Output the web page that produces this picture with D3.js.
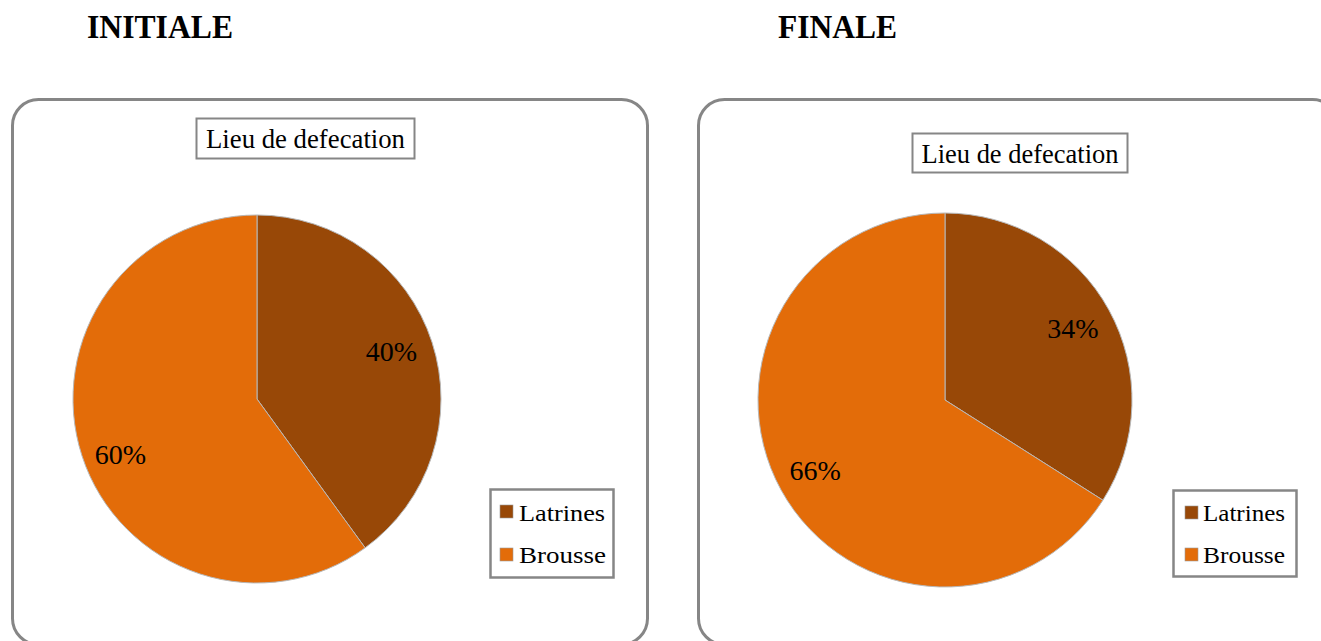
<!DOCTYPE html>
<html>
<head>
<meta charset="utf-8">
<script src="https://cdn.jsdelivr.net/npm/d3@7"></script>
<style>
  html, body { margin: 0; padding: 0; background: #fff; }
  svg { display: block; }
  text { font-family: "Liberation Serif", "Times New Roman", serif; }
</style>
</head>
<body>
<svg id="chart" width="1321" height="641"></svg>
<script>
// ---- data ----
const categories = ["Latrines", "Brousse"];
const initialeValues = [40, 60];
const finaleValues = [34, 66];
const panelTitles = ["INITIALE", "FINALE"];
const chartTitle = "Lieu de defecation";
const sliceColors = ["#984807", "#E36C09"];

// ---- layout (positions/styles only) ----
const panels = [
  { values: initialeValues, heading: panelTitles[0],
    headX: 87, headLen: 146,
    box: { x: 12.5, y: 99.5, w: 635, h: 545 },
    titleBox: { x: 196.5, y: 118.5, w: 218, h: 40 }, titleBase: 148, titleLen: 199,
    cx: 257, cy: 399, r: 184,
    labelNudge: [[-2, -3], [0, 11]],
    legend: { x: 490.5, y: 489.5, w: 123, h: 88, sx: 500, tx: 519, base: [521, 563], sy: [505, 548], len: [86, 87] } },
  { values: finaleValues, heading: panelTitles[1],
    headX: 778, headLen: 119,
    box: { x: 698.5, y: 99.5, w: 640, h: 545 },
    titleBox: { x: 912.5, y: 133.5, w: 215, h: 39 }, titleBase: 163, titleLen: 197,
    cx: 945, cy: 400, r: 187,
    labelNudge: [[0, -2], [-2, 0]],
    legend: { x: 1173.5, y: 490.5, w: 123, h: 86, sx: 1185, tx: 1203, base: [521, 563], sy: [506, 548], len: [82, 82] } }
];

const svg = d3.select("#chart");
const color = d3.scaleOrdinal().domain(categories).range(sliceColors);
const pie = d3.pie().sort(null).value(d => d.value);

panels.forEach(p => {
  const g = svg.append("g");

  // heading
  g.append("text")
    .attr("x", p.headX).attr("y", 38)
    .attr("font-size", 33).attr("font-weight", "bold")
    .attr("textLength", p.headLen).attr("lengthAdjust", "spacingAndGlyphs")
    .attr("fill", "#000")
    .text(p.heading);

  // chart area frame
  g.append("rect")
    .attr("x", p.box.x).attr("y", p.box.y)
    .attr("width", p.box.w).attr("height", p.box.h)
    .attr("rx", 26).attr("ry", 26)
    .attr("fill", "#fff").attr("stroke", "#868686").attr("stroke-width", 3);

  // title box
  g.append("rect")
    .attr("x", p.titleBox.x).attr("y", p.titleBox.y)
    .attr("width", p.titleBox.w).attr("height", p.titleBox.h)
    .attr("fill", "#fff").attr("stroke", "#868686").attr("stroke-width", 2);
  g.append("text")
    .attr("x", p.titleBox.x + p.titleBox.w / 2).attr("y", p.titleBase)
    .attr("text-anchor", "middle")
    .attr("font-size", 27)
    .attr("textLength", p.titleLen).attr("lengthAdjust", "spacingAndGlyphs")
    .text(chartTitle);

  // pie
  const data = categories.map((c, i) => ({ cat: c, value: p.values[i] }));
  const arcs = pie(data);
  const arc = d3.arc().innerRadius(0).outerRadius(p.r);
  const labelArc = d3.arc().innerRadius(p.r * 0.78).outerRadius(p.r * 0.78);
  const pg = g.append("g").attr("transform", `translate(${p.cx},${p.cy})`);
  pg.selectAll("path").data(arcs).join("path")
    .attr("d", arc)
    .attr("fill", d => color(d.data.cat))
    .attr("stroke", "#b8b8b8").attr("stroke-width", 1);
  pg.selectAll("text").data(arcs).join("text")
    .attr("transform", (d, i) => {
      const [x, y] = labelArc.centroid(d);
      return `translate(${x + p.labelNudge[i][0]},${y + p.labelNudge[i][1]})`;
    })
    .attr("text-anchor", "middle")
    .attr("dy", "0.35em")
    .attr("font-size", 28)
    .attr("fill", "#000")
    .text(d => d.data.value + "%");

  // legend
  const L = p.legend;
  g.append("rect")
    .attr("x", L.x).attr("y", L.y).attr("width", L.w).attr("height", L.h)
    .attr("fill", "#fff").attr("stroke", "#868686").attr("stroke-width", 2.5);
  categories.forEach((c, i) => {
    g.append("rect")
      .attr("x", L.sx).attr("y", L.sy[i]).attr("width", 13).attr("height", 13)
      .attr("fill", color(c)).attr("stroke", "#9a9a9a").attr("stroke-width", 0.6);
    g.append("text")
      .attr("x", L.tx).attr("y", L.base[i])
      .attr("font-size", 24)
      .attr("textLength", L.len[i]).attr("lengthAdjust", "spacingAndGlyphs")
      .text(c);
  });
});
</script>
</body>
</html>
